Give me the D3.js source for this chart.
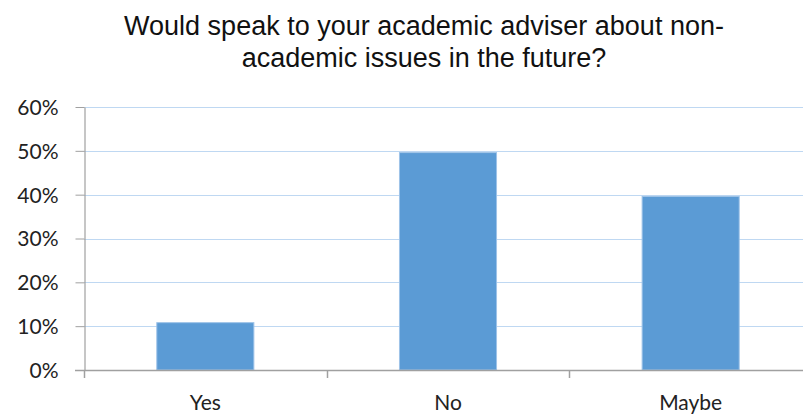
<!DOCTYPE html>
<html>
<head>
<meta charset="utf-8">
<script src="https://cdn.jsdelivr.net/npm/d3@7"></script>
<style>
  body { margin: 0; background: #fff; }
  svg { display: block; }
</style>
</head>
<body>
<div id="chart"></div>
<script>
// chart data
var categories = ["Yes", "No", "Maybe"];
var values = [0.108, 0.496, 0.396];
var yTicks = [0, 0.1, 0.2, 0.3, 0.4, 0.5, 0.6];
var titleLines = ["Would speak to your academic adviser about non-", "academic issues in the future?"];

var width = 803, height = 417;
var margin = {top: 107, left: 84, bottom: 47};

var svg = d3.select("#chart").append("svg")
    .attr("width", width)
    .attr("height", height);

// band scale runs a bit past the right edge, like the cropped original
var x = d3.scaleBand()
    .domain(categories)
    .range([margin.left, margin.left + 728])
    .paddingInner(0.6)
    .paddingOuter(0.3);

var y = d3.scaleLinear()
    .domain([0, 0.6])
    .range([height - margin.bottom, margin.top]);

// gridlines
svg.append("g")
  .selectAll("line")
  .data(yTicks.slice(1))
  .enter().append("line")
    .attr("x1", margin.left)
    .attr("x2", width)
    .attr("y1", function(d) { return Math.round(y(d)) + 0.5; })
    .attr("y2", function(d) { return Math.round(y(d)) + 0.5; })
    .style("stroke", "#bfd8f2")
    .style("stroke-width", 1);

// bars
svg.append("g")
  .selectAll("rect")
  .data(values)
  .enter().append("rect")
    .attr("x", function(d, i) { return x(categories[i]); })
    .attr("y", function(d) { return y(d); })
    .attr("width", x.bandwidth())
    .attr("height", function(d) { return y(0) - y(d); })
    .style("fill", "#5b9bd5")
    .style("stroke", "#9ec3e8")
    .style("stroke-width", 1);

// y axis
var yAxis = svg.append("g")
    .attr("transform", "translate(" + (margin.left + 0.5) + ",0)")
    .call(d3.axisLeft(y)
      .tickValues(yTicks)
      .tickFormat(d3.format(".0%"))
      .tickSize(9)
      .tickSizeOuter(0)
      .tickPadding(17));

yAxis.select(".domain").style("stroke", "#a0a0a0").style("stroke-width", 1.2);
yAxis.selectAll(".tick line").style("stroke", "#a0a0a0");
yAxis.selectAll(".tick text")
    .style("font-family", "Lato, 'Open Sans', sans-serif")
    .style("font-size", "21px")
    .style("fill", "#222")
    .attr("dy", "0.35em");

// x axis line + category boundary ticks
var bounds = [margin.left, x("No") - x.step() * 0.3, x("Maybe") - x.step() * 0.3];
svg.append("line")
    .attr("x1", margin.left - 9)
    .attr("x2", width)
    .attr("y1", y(0) + 0.5)
    .attr("y2", y(0) + 0.5)
    .style("stroke", "#a0a0a0")
    .style("stroke-width", 1.5);

svg.append("g")
  .selectAll("line")
  .data(bounds)
  .enter().append("line")
    .attr("x1", function(d) { return Math.round(d) + 0.5; })
    .attr("x2", function(d) { return Math.round(d) + 0.5; })
    .attr("y1", y(0))
    .attr("y2", y(0) + 8)
    .style("stroke", "#a0a0a0")
    .style("stroke-width", 1.5);

// category labels
svg.append("g")
  .selectAll("text")
  .data(categories)
  .enter().append("text")
    .attr("x", function(d) { return x(d) + x.bandwidth() / 2; })
    .attr("y", y(0) + 40)
    .attr("text-anchor", "middle")
    .style("font-family", "Lato, 'Open Sans', sans-serif")
    .style("font-size", "21px")
    .style("fill", "#222")
    .text(function(d) { return d; });

// title
svg.append("g")
  .selectAll("text")
  .data(titleLines)
  .enter().append("text")
    .attr("x", 424)
    .attr("y", function(d, i) { return 35 + i * 32; })
    .attr("text-anchor", "middle")
    .style("font-family", "'Liberation Sans', Arial, sans-serif")
    .style("font-size", "27px")
    .style("fill", "#111")
    .text(function(d) { return d; });
</script>
</body>
</html>
